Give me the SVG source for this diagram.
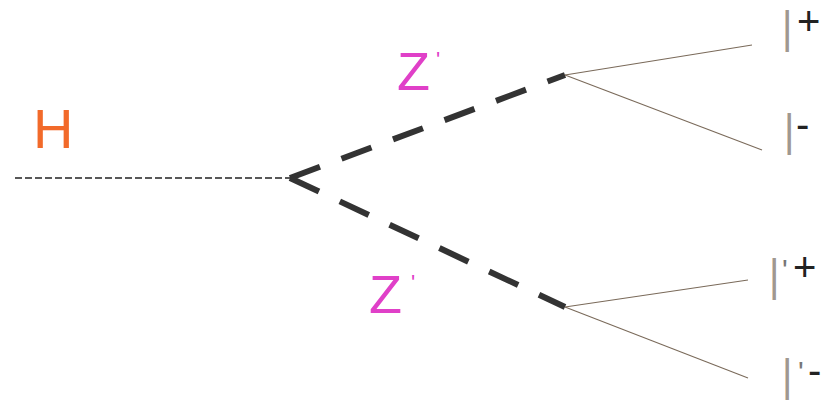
<svg xmlns="http://www.w3.org/2000/svg" width="821" height="401" viewBox="0 0 821 401">
<style>
.h{fill:#f26a2a;font-family:"Liberation Sans",Arial,sans-serif;font-size:56px}
.z{fill:#e040c8;font-family:"Liberation Sans",Arial,sans-serif;font-size:54px}
.zp{fill:#e040c8;font-family:"Liberation Sans",Arial,sans-serif;font-size:22px}
.l{fill:#a09890;font-family:"Liberation Sans",Arial,sans-serif;font-size:58px}
.s{fill:#222;font-family:"Liberation Sans",Arial,sans-serif;font-size:40px}
.p{fill:#777;font-family:"Liberation Sans",Arial,sans-serif;font-size:30px}
.thick{stroke:#333;stroke-width:6;stroke-dasharray:32 23;fill:none;stroke-linecap:butt}
.thin{stroke:#7a6a5a;stroke-width:1.1;fill:none}
.hline{stroke:#222;stroke-width:1.5;stroke-dasharray:7 3;fill:none}
</style>
<g id="connectors">
<line class="hline" x1="15" y1="178" x2="290" y2="178"/>
<line class="thick" x1="290" y1="178" x2="565" y2="75"/>
<line class="thick" x1="290" y1="178" x2="565" y2="307"/>
<line class="thin" x1="565" y1="75" x2="752" y2="45"/>
<line class="thin" x1="565" y1="75" x2="762" y2="150"/>
<line class="thin" x1="565" y1="307" x2="748" y2="280"/>
<line class="thin" x1="565" y1="307" x2="748" y2="378"/>
</g>
<g id="H"><text class="h" x="33" y="148">H</text></g>
<g id="Z1"><text class="z" x="397" y="90">Z</text><text class="zp" x="436" y="67">'</text></g>
<g id="Z2"><text class="z" x="369" y="313">Z</text><text class="zp" x="411" y="290">'</text></g>
<g id="l1"><text class="l" transform="translate(783,52) scale(0.65,1)">l</text><text class="s" x="797" y="35">+</text></g>
<g id="l2"><text class="l" transform="translate(785,155) scale(0.65,1)">l</text><text class="s" x="796" y="138">-</text></g>
<g id="l3"><text class="l" transform="translate(770,300) scale(0.65,1)">l</text><text class="p" x="782" y="280">'</text><text class="s" x="793" y="281">+</text></g>
<g id="l4"><text class="l" transform="translate(783,400) scale(0.65,1)">l</text><text class="p" x="798" y="382">'</text><text class="s" x="808" y="384">-</text></g>
</svg>
